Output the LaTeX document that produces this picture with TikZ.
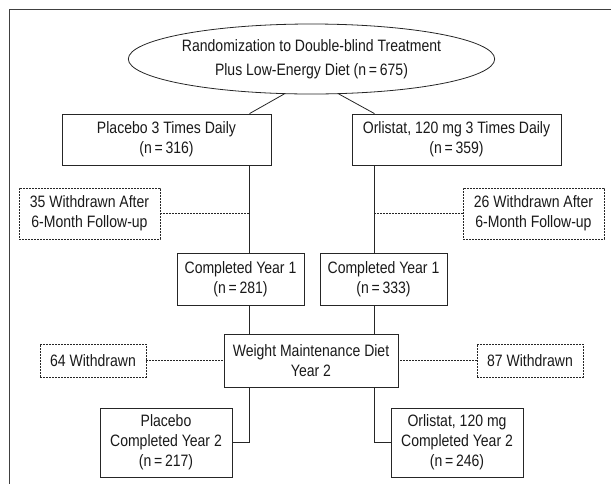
\documentclass[tikz,border=0pt]{standalone}
\usepackage{fontspec}
\setmainfont{Liberation Sans}[FakeStretch=0.85]
\usetikzlibrary{shapes.geometric}

\tikzset{
  solidbox/.style={draw=black!85, line width=0.8pt, rectangle, align=center, inner sep=0pt},
  dashbox/.style={solidbox, dash pattern=on 1.6pt off 1.4pt},
  link/.style={draw=black!85, line width=0.8pt},
  dashlink/.style={link, dash pattern=on 1.6pt off 1.4pt},
}

\begin{document}
\begin{tikzpicture}[x=1pt,y=-1pt,font=\fontsize{16.5}{20}\selectfont,text=black!90]
\useasboundingbox (0,0) rectangle (611,483);
% outer frame
\draw[black!75, line width=1.3pt] (9.5,490) -- (9.5,9.5) -- (620,9.5);
% x positions of the two arms
\coordinate (lx) at (249.5,0);
\coordinate (rx) at (374.5,0);
% randomization
\node[ellipse, draw=black!85, line width=0.8pt, minimum width=323, minimum height=70, inner sep=0pt, align=center] (rand) at (311.5,59)
  {Randomization to Double-blind Treatment\\[4pt]Plus Low-Energy Diet (n\,=\,675)};
% year 1
\node[solidbox, minimum width=209, minimum height=51] (plac) at (166.5,139.5) {Placebo 3 Times Daily\\(n\,=\,316)};
\node[solidbox, minimum width=209, minimum height=51] (orl) at (456.5,139.5) {Orlistat, 120 mg 3 Times Daily\\(n\,=\,359)};
\node[dashbox, minimum width=141, minimum height=51] (wdl) at (89.5,213.5) {35 Withdrawn After\\6-Month Follow-up};
\node[dashbox, minimum width=141, minimum height=51] (wdr) at (533.5,213.5) {26 Withdrawn After\\6-Month Follow-up};
\node[solidbox, minimum width=127, minimum height=52] (cyl) at (240.5,279) {Completed Year 1\\(n\,=\,281)};
\node[solidbox, minimum width=127, minimum height=52] (cyr) at (383.5,279) {Completed Year 1\\(n\,=\,333)};
% year 2
\node[solidbox, minimum width=174, minimum height=53] (wm) at (311,360.5) {Weight Maintenance Diet\\Year 2};
\node[dashbox, minimum width=106, minimum height=33] (wdl2) at (93,360.5) {64 Withdrawn};
\node[dashbox, minimum width=106, minimum height=33] (wdr2) at (530,360.5) {87 Withdrawn};
\node[solidbox, minimum width=132, minimum height=69] (endl) at (166,442.5) {Placebo\\Completed Year 2\\(n\,=\,217)};
\node[solidbox, minimum width=132, minimum height=69] (endr) at (457,442.5) {Orlistat, 120 mg\\Completed Year 2\\(n\,=\,246)};
% connectors
\draw[link] (rand.232) -- (plac.north -| lx);
\draw[link] (rand.308) -- (orl.north -| rx);
\draw[link] (plac.south -| lx) -- (cyl.north -| lx);
\draw[link] (orl.south -| rx) -- (cyr.north -| rx);
\draw[link] (cyl.south -| lx) -- (wm.north -| lx);
\draw[link] (cyr.south -| rx) -- (wm.north -| rx);
\draw[link] (wm.south -| lx) |- (endl.east);
\draw[link] (wm.south -| rx) |- (endr.west);
\draw[dashlink] (wdl.east) -- (wdl.east -| lx);
\draw[dashlink] (wdr.west) -- (wdr.west -| rx);
\draw[dashlink] (wdl2.east) -- (wm.west);
\draw[dashlink] (wdr2.west) -- (wm.east);
\end{tikzpicture}
\end{document}
